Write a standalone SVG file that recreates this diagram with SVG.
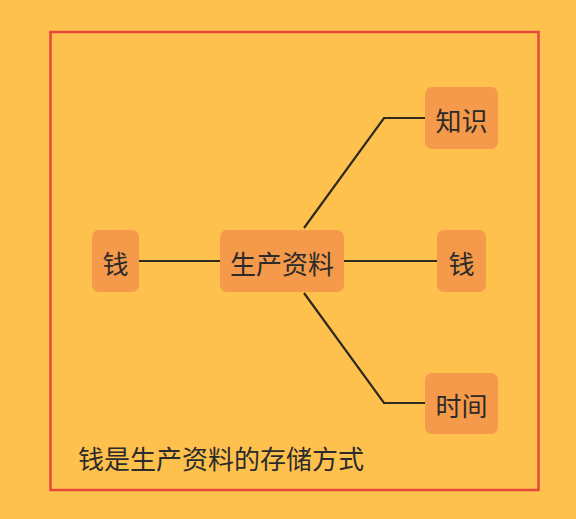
<svg xmlns="http://www.w3.org/2000/svg" width="576" height="519" viewBox="0 0 576 519">
<style>
.node{fill:#F5994A;}
.lbl{font-family:"Noto Sans CJK SC","Noto Sans",sans-serif;font-size:26px;fill:#2b2b2b;text-anchor:middle;dominant-baseline:central;}
.conn{fill:none;stroke:#2e2a1e;stroke-width:2.2;}
</style>
<rect x="0" y="0" width="576" height="519" fill="#FFC14D"/>
<rect id="frame" x="50.5" y="32" width="488" height="458" fill="none" stroke="#E5483A" stroke-width="2.5"/>
<g id="connectors">
<path class="conn" d="M139 261 H220"/>
<path class="conn" d="M344 261 H437"/>
<path class="conn" d="M304 228 L384 118 H425"/>
<path class="conn" d="M304 293 L384 403 H425"/>
</g>
<g id="node-center"><rect class="node" x="220" y="230" width="124" height="62" rx="7"/><text class="lbl" x="282" y="262">生产资料</text></g>
<g id="node-left"><rect class="node" x="92" y="230" width="47" height="62" rx="7"/><text class="lbl" x="115.5" y="262">钱</text></g>
<g id="node-knowledge"><rect class="node" x="425" y="87" width="73" height="62" rx="7"/><text class="lbl" x="461.5" y="119">知识</text></g>
<g id="node-money"><rect class="node" x="437" y="230" width="49" height="62" rx="7"/><text class="lbl" x="461.5" y="262">钱</text></g>
<g id="node-time"><rect class="node" x="425" y="373" width="73" height="61" rx="7"/><text class="lbl" x="461.5" y="404.5">时间</text></g>
<text id="caption" x="78" y="457" style="font-family:'Noto Sans CJK SC','Noto Sans',sans-serif;font-size:26px;fill:#2b2b2b;dominant-baseline:central;">钱是生产资料的存储方式</text>
</svg>
